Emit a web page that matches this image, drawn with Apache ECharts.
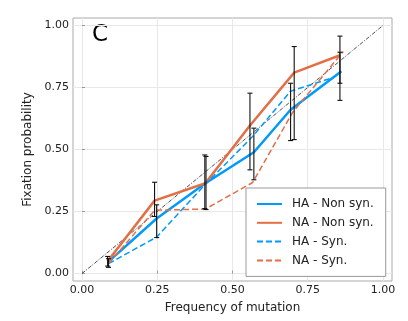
<!DOCTYPE html>
<html>
<head>
<meta charset="utf-8">
<script src="https://cdn.jsdelivr.net/npm/echarts@6/dist/echarts.min.js"></script>
<style>html,body{margin:0;padding:0;background:#fff;}#c{width:408px;height:321px;}</style>
</head>
<body>
<div id="c"></div>
<script>
// ---- data ----
const tickValues = [0, 0.25, 0.5, 0.75, 1.0];
const seriesNames = ['HA - Non syn.', 'NA - Non syn.', 'HA - Syn.', 'NA - Syn.'];

const haNonX = [0.088, 0.248, 0.41, 0.571, 0.693, 0.862];
const haNonY = [0.048, 0.222, 0.364, 0.489, 0.66, 0.815];
const naNonX = [0.085, 0.241, 0.41, 0.558, 0.705, 0.855];
const naNonY = [0.05, 0.294, 0.364, 0.597, 0.81, 0.879];
const haSynX = [0.088, 0.248, 0.41, 0.565, 0.693, 0.835];
const haSynY = [0.04, 0.147, 0.36, 0.55, 0.735, 0.79];
const naSynX = [0.088, 0.241, 0.41, 0.567, 0.70, 0.868];
const naSynY = [0.04, 0.255, 0.26, 0.367, 0.65, 0.895];

const naErrX = [0.085, 0.241, 0.408, 0.558, 0.705, 0.857];
const naErrLow = [0.03, 0.23, 0.262, 0.418, 0.54, 0.767];
const naErrHigh = [0.069, 0.368, 0.478, 0.727, 0.915, 0.957];
const haErrX = [0.088, 0.248, 0.412, 0.571, 0.693, 0.857];
const haErrLow = [0.025, 0.145, 0.258, 0.378, 0.536, 0.698];
const haErrHigh = [0.06, 0.277, 0.472, 0.586, 0.767, 0.892];

const diagX = [0, 1];
const diagY = [0, 1];

// ---- build ----
const zip = (xs, ys) => xs.map((x, i) => [x, ys[i]]);
const errData = naErrX.map((x, i) => [x, naErrLow[i], naErrHigh[i]])
  .concat(haErrX.map((x, i) => [x, haErrLow[i], haErrHigh[i]]));

const BLUE = '#009AFA', ORANGE = '#E26F46';
const FONT = 'DejaVu Sans';

const chart = echarts.init(document.getElementById('c'), null, {renderer: 'canvas'});
const axisCommon = {
  type: 'value',
  min: -0.03, max: 1.03,
  axisLine: {show: false},
  axisTick: {show: true, inside: true, length: 3, customValues: tickValues, lineStyle: {color: '#999', width: 1}},
  axisLabel: {customValues: tickValues, color: '#222', fontSize: 11, fontFamily: FONT,
    formatter: v => v.toFixed(2)},
  splitLine: {show: true, lineStyle: {color: '#e8e8e8', width: 1}},
  nameTextStyle: {color: '#222', fontSize: 12, fontFamily: FONT}
};

chart.setOption({
  animation: false,
  backgroundColor: '#fff',
  grid: {left: 73, right: 16, top: 18, bottom: 40, show: true, borderColor: '#aaa', borderWidth: 1, backgroundColor: 'transparent'},
  xAxis: Object.assign({}, axisCommon, {
    name: 'Frequency of mutation', nameLocation: 'middle', nameGap: 21,
    axisLabel: Object.assign({}, axisCommon.axisLabel, {margin: 4})
  }),
  yAxis: Object.assign({}, axisCommon, {
    name: 'Fixation probability', nameLocation: 'middle', nameGap: 31,
    axisLabel: Object.assign({}, axisCommon.axisLabel, {margin: 4})
  }),
  legend: {
    data: seriesNames,
    orient: 'vertical', left: 246, top: 188,
    backgroundColor: '#fff', borderColor: '#999', borderWidth: 1, borderRadius: 0,
    padding: [10, 12, 10, 10],
    itemWidth: 25, itemHeight: 12, itemGap: 6.8,
    itemStyle: {opacity: 0},
    lineStyle: {width: 2},
    textStyle: {fontSize: 12, fontFamily: FONT, color: '#222', padding: [0, 0, 0, 5]}
  },
  graphic: [{type: 'text', left: 92, top: 24, style: {text: 'C', fontSize: 23, fontFamily: FONT, fill: '#000'}}],
  series: [
    {type: 'line', name: 'diag', data: zip(diagX, diagY), symbol: 'none', silent: true, z: 1,
      lineStyle: {color: '#222', width: 0.8, type: [4, 1.5, 1, 1.5]}},
    {type: 'line', name: seriesNames[0], data: zip(haNonX, haNonY), symbol: 'none', z: 3,
      itemStyle: {color: BLUE}, lineStyle: {color: BLUE, width: 2.5}},
    {type: 'line', name: seriesNames[1], data: zip(naNonX, naNonY), symbol: 'none', z: 3,
      itemStyle: {color: ORANGE}, lineStyle: {color: ORANGE, width: 2.5}},
    {type: 'line', name: seriesNames[2], data: zip(haSynX, haSynY), symbol: 'none', z: 3,
      itemStyle: {color: BLUE}, lineStyle: {color: BLUE, width: 1.5, type: [6, 3]}},
    {type: 'line', name: seriesNames[3], data: zip(naSynX, naSynY), symbol: 'none', z: 3,
      itemStyle: {color: ORANGE}, lineStyle: {color: ORANGE, width: 1.5, type: [6, 3]}},
    {type: 'custom', name: 'err', z: 5, silent: true, data: errData,
      encode: {x: 0, y: [1, 2]},
      renderItem: function (params, api) {
        const x = api.value(0);
        const lo = api.coord([x, api.value(1)]);
        const hi = api.coord([x, api.value(2)]);
        const w = 2.5;
        const st = {stroke: '#111', lineWidth: 1.1};
        return {type: 'group', children: [
          {type: 'line', shape: {x1: lo[0], y1: lo[1], x2: hi[0], y2: hi[1]}, style: st},
          {type: 'line', shape: {x1: lo[0] - w, y1: lo[1], x2: lo[0] + w, y2: lo[1]}, style: st},
          {type: 'line', shape: {x1: hi[0] - w, y1: hi[1], x2: hi[0] + w, y2: hi[1]}, style: st}
        ]};
      }}
  ]
});
</script>
</body>
</html>
